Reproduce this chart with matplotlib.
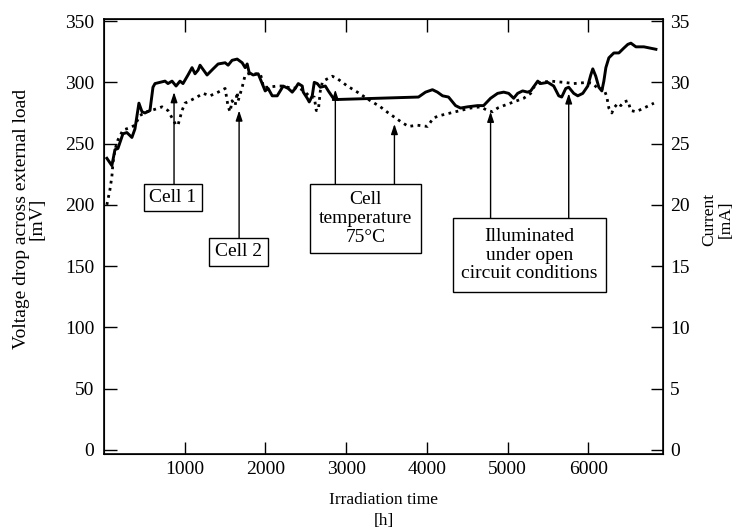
import matplotlib
matplotlib.use("Agg")
import matplotlib.pyplot as plt
from matplotlib.patches import Rectangle

plt.rcParams['font.family'] = ['Liberation Serif', 'DejaVu Serif']

# cell 1 (solid) - voltage in mV vs irradiation time in h
t1 = [37, 99, 137, 174, 236, 285, 347, 385, 434, 472, 509, 571, 608, 633, 695, 757,
      794, 844, 894, 943, 980, 1042, 1092, 1129, 1167, 1191, 1278, 1353, 1415, 1502,
      1539, 1588, 1651, 1713, 1750, 1775, 1800, 1849, 1911, 1961, 1998, 2035, 2085,
      2147, 2184, 2221, 2283, 2333, 2370, 2408, 2457, 2470, 2519, 2544, 2581, 2606,
      2643, 2681, 2743, 2780, 2842, 2892, 3897, 3984, 4070, 4132, 4195, 4269, 4356,
      4418, 4505, 4629, 4703, 4790, 4877, 4952, 5014, 5076, 5125, 5187, 5249, 5287,
      5374, 5411, 5498, 5572, 5634, 5671, 5721, 5758, 5820, 5870, 5932, 5994, 6031,
      6056, 6093, 6131, 6168, 6193, 6218, 6255, 6317, 6379, 6441, 6490, 6528, 6590,
      6689, 6838]
v1 = [238, 232, 245, 246, 258, 259, 255, 262, 283, 276, 275, 277, 296, 299, 300, 301,
      299, 301, 297, 301, 299, 306, 312, 307, 310, 314, 306, 311, 315, 316,
      314, 318, 319, 316, 312, 315, 308, 306, 307, 299, 293, 295, 289,
      289, 293, 297, 295, 292, 295, 299, 297, 292, 287, 284, 289, 300,
      299, 296, 297, 293, 287, 286, 288, 292, 294, 292, 289, 288, 281,
      279, 280, 281, 281, 287, 291, 292, 291, 287, 291, 293, 292, 293,
      301, 299, 300, 297, 289, 288, 295, 296, 291, 289, 291, 297, 306,
      311, 305, 296, 293, 301, 312, 320, 324, 324, 328, 331, 332, 329,
      329, 327]

# cell 2 (dotted)
t2 = [37, 74, 99, 112, 137, 174, 236, 323, 385, 447, 534, 633, 720, 794, 844, 894,
      918, 968, 1005, 1067, 1154, 1229, 1315, 1415, 1502, 1539, 1564, 1588, 1626,
      1651, 1663, 1713, 1750, 1787, 1874, 1936, 1961, 1973, 2035, 2147, 2221, 2333,
      2408, 2494, 2556, 2606, 2631, 2656, 2681, 2706, 2743, 2830, 2892, 3016, 3140,
      3301, 3425, 3524, 3611, 3698, 3773, 3884, 4008, 4083, 4170, 4294, 4418, 4542,
      4666, 4753, 4815, 4877, 4952, 5076, 5200, 5287, 5324, 5411, 5535, 5696, 5820,
      5994, 6056, 6118, 6193, 6230, 6255, 6292, 6317, 6367, 6404, 6441, 6490, 6528,
      6590, 6689, 6813]
v2 = [200, 212, 223, 234, 245, 253, 261, 263, 265, 273, 276, 278, 280, 277, 271, 265,
      265, 277, 283, 285, 288, 291, 289, 292, 295, 280, 276, 285, 281,
      292, 285, 296, 306, 307, 307, 307, 302, 296, 296, 297, 297, 295,
      296, 292, 288, 288, 277, 277, 293, 300, 302, 305, 303, 297, 292,
      285, 280, 275, 271, 267, 264, 265, 264, 271, 273, 275, 277, 279,
      280, 277, 276, 279, 281, 284, 287, 291, 296, 300, 301, 300, 299,
      300, 299, 295, 295, 288, 279, 275, 279, 283, 281, 284, 285, 277,
      276, 279, 283]

xticks = [1000, 2000, 3000, 4000, 5000, 6000]
yticks = [0, 50, 100, 150, 200, 250, 300, 350]
yticks_right = [0, 5, 10, 15, 20, 25, 30, 35]

# annotation boxes: text, box (x0, x1, y0, y1), arrows (x, tip)
notes = [
    ("Cell 1", (496, 1216, 195, 217), [(869, 292)]),
    ("Cell 2", (1303, 2035, 150, 173), [(1675, 277)]),
    ("Cell\ntemperature\n75°C", (2556, 3934, 161, 217), [(2867, 294), (3599, 266)]),
    ("Illuminated\nunder open\ncircuit conditions", (4319, 6217, 129, 189), [(4790, 276), (5758, 291)]),
]

fig = plt.figure(figsize=(7.42, 5.32), dpi=100)
ax = fig.add_axes([0.140, 0.147, 0.754, 0.817])

ax.plot(t1, v1, color='black', lw=2.1, solid_joinstyle='round')
ax.plot(t2, v2, color='black', lw=2.0, linestyle=(0, (1, 1.6)))

ax.set_xlim(0, 6930)
ax.set_ylim(-3.3, 351.6)
ax.set_xticks(xticks)
ax.set_yticks(yticks)
ax.tick_params(direction='in', length=9, width=1, labelsize=14, top=True, right=False, pad=5)
ax.tick_params(axis='y', pad=7)

for s in ax.spines.values():
    s.set_linewidth(1.2)

for label, (x0, x1, y0, y1), arrows in notes:
    ax.add_patch(Rectangle((x0, y0), x1 - x0, y1 - y0, fc='white', ec='black', lw=1, zorder=3))
    ax.text((x0 + x1) / 2, (y0 + y1) / 2, label, ha='center', va='center', fontsize=14,
            linespacing=1.15, zorder=4)
    for ax_x, tip in arrows:
        ax.annotate('', xy=(ax_x, tip), xytext=(ax_x, y1),
                    arrowprops=dict(arrowstyle='-|>,head_length=0.6,head_width=0.2',
                                    color='black', lw=1, shrinkA=0, shrinkB=0),
                    zorder=2)

ax.set_xlabel("Irradiation time\n[h]", fontsize=12.5, labelpad=10, linespacing=1.45)
ax.set_ylabel("Voltage drop across external load\n[mV]", fontsize=14, labelpad=14,
              linespacing=0.85, y=0.54)

ax2 = ax.twinx()
ax2.set_ylim(-0.33, 35.16)
ax2.set_yticks(yticks_right)
ax2.tick_params(direction='in', length=9, width=1, labelsize=14, pad=5)
ax2.set_ylabel("Current\n[mA]", fontsize=12.5, labelpad=8, linespacing=1.1, y=0.54)

fig.savefig("out.png", dpi=100)
